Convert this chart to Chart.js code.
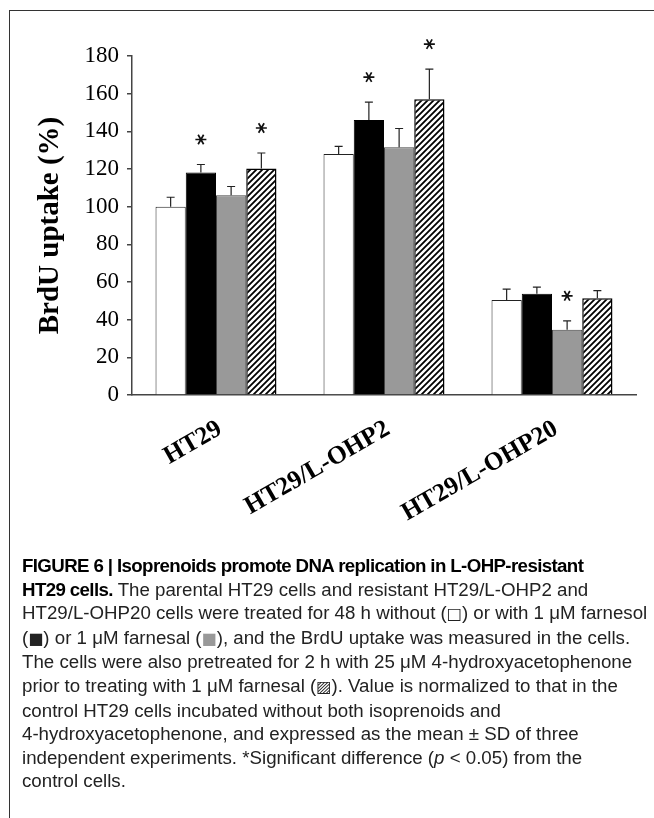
<!DOCTYPE html>
<html>
<head>
<meta charset="utf-8">
<script src="https://cdn.jsdelivr.net/npm/chart.js@4.4.1/dist/chart.umd.min.js"></script>
<style>
  body { margin: 0; background: #fff; width: 654px; height: 818px; overflow: hidden; position: relative; }
  #chart { position: absolute; left: 0; top: 0; }
  .frame { position: absolute; left: 9px; top: 10px; width: 660px; height: 820px;
           border-top: 1.5px solid #333; border-left: 1.5px solid #333; }
  .caption { position: absolute; left: 22px; top: 554px; font-family: "Liberation Sans", Arial, sans-serif;
             font-size: 18.7px; line-height: 23.6px; color: #222; white-space: nowrap; }
  .caption b { color: #000; letter-spacing: -0.62px; }
  .sym { font-family: "DejaVu Sans", sans-serif; font-size: 16px; }
</style>
</head>
<body>
<canvas id="chart" width="654" height="545"></canvas>
<div class="frame"></div>
<div class="caption">
<b>FIGURE 6 | Isoprenoids promote DNA replication in L-OHP-resistant</b><br>
<b>HT29 cells.</b> The parental HT29 cells and resistant HT29/L-OHP2 and<br>
HT29/L-OHP20 cells were treated for 48 h without (<span class="sym">□</span>) or with 1 μM farnesol<br>
(<span class="sym">■</span>) or 1 μM farnesal (<span class="sym" style="color:#999">■</span>), and the BrdU uptake was measured in the cells.<br>
The cells were also pretreated for 2 h with 25 μM 4-hydroxyacetophenone<br>
prior to treating with 1 μM farnesal (<span class="sym">▨</span>). Value is normalized to that in the<br>
control HT29 cells incubated without both isoprenoids and<br>
4-hydroxyacetophenone, and expressed as the mean ± SD of three<br>
independent experiments. *Significant difference (<i>p</i> &lt; 0.05) from the<br>
control cells.
</div>
<script>
// cell lines on the x axis
const cellLines = ['HT29', 'HT29/L-OHP2', 'HT29/L-OHP20'];

// BrdU uptake (%), with SD (upper error bar only)
const controlVals = [100, 128, 50.5];
const controlSd = [5, 4, 5.7];
const farnesolVals = [118.2, 146, 53.7];
const farnesolSd = [4.2, 9.5, 3.6];
const farnesalVals = [106, 131.5, 34.6];
const farnesalSd = [4.7, 10, 4.8];
const pretreatVals = [120.3, 157, 51.4];
const pretreatSd = [8.2, 16, 4];

// significance markers (*)
const controlSig = [false, false, false];
const farnesolSig = [true, true, false];
const farnesalSig = [false, false, true];
const pretreatSig = [true, true, false];

const yTicks = [0, 20, 40, 60, 80, 100, 120, 140, 160, 180];

// diagonal hatch for the 4-hydroxyacetophenone bars
function makeHatch() {
    const s = 6;
    const c = document.createElement('canvas');
    c.width = s; c.height = s;
    const g = c.getContext('2d');
    g.fillStyle = '#fff';
    g.fillRect(0, 0, s, s);
    g.strokeStyle = '#000';
    g.lineWidth = 1.8;
    g.beginPath();
    g.moveTo(0, s); g.lineTo(s, 0);
    g.moveTo(-1, 1); g.lineTo(1, -1);
    g.moveTo(s - 1, s + 1); g.lineTo(s + 1, s - 1);
    g.stroke();
    return document.getElementById('chart').getContext('2d').createPattern(c, 'repeat');
}

// upward error bars and asterisks
const errorBars = {
    id: 'errorBars',
    afterDatasetsDraw(chart) {
        const ctx = chart.ctx;
        const y = chart.scales.y;
        ctx.save();
        chart.data.datasets.forEach((ds, i) => {
            const meta = chart.getDatasetMeta(i);
            meta.data.forEach((bar, j) => {
                const top = y.getPixelForValue(ds.data[j] + ds.sd[j]);
                ctx.strokeStyle = '#222';
                ctx.lineWidth = 1.2;
                ctx.beginPath();
                ctx.moveTo(bar.x, bar.y);
                ctx.lineTo(bar.x, top);
                ctx.moveTo(bar.x - 4, top);
                ctx.lineTo(bar.x + 4, top);
                ctx.stroke();
                if (ds.sig[j]) {
                    const cy = top - 25;
                    const r = 5.5;
                    ctx.strokeStyle = '#111';
                    ctx.lineWidth = 1.7;
                    ctx.beginPath();
                    for (let k = 0; k < 3; k++) {
                        const a = k * Math.PI / 3;
                        ctx.moveTo(bar.x - r * Math.cos(a), cy - r * Math.sin(a));
                        ctx.lineTo(bar.x + r * Math.cos(a), cy + r * Math.sin(a));
                    }
                    ctx.stroke();
                }
            });
        });
        ctx.restore();
    }
};

const hatch = makeHatch();

new Chart(document.getElementById('chart'), {
    type: 'bar',
    data: {
        labels: cellLines,
        datasets: [
            { label: 'control', data: controlVals, sd: controlSd, sig: controlSig,
              backgroundColor: '#fff', borderColor: '#222', borderWidth: 1 },
            { label: 'farnesol', data: farnesolVals, sd: farnesolSd, sig: farnesolSig,
              backgroundColor: '#000', borderColor: '#000', borderWidth: 1 },
            { label: 'farnesal', data: farnesalVals, sd: farnesalSd, sig: farnesalSig,
              backgroundColor: '#999', borderColor: '#444', borderWidth: 1 },
            { label: '4-HAP + farnesal', data: pretreatVals, sd: pretreatSd, sig: pretreatSig,
              backgroundColor: hatch, borderColor: '#000', borderWidth: 1.5 }
        ]
    },
    options: {
        responsive: false,
        animation: false,
        devicePixelRatio: 1,
        layout: { padding: { top: 56, right: 18, left: 0, bottom: 0 } },
        categoryPercentage: 0.72,
        barPercentage: 1,
        plugins: { legend: { display: false }, tooltip: { enabled: false } },
        scales: {
            x: {
                grid: { drawOnChartArea: false, drawTicks: false },
                border: { color: '#444', width: 1.5 },
                ticks: {
                    color: '#000',
                    maxRotation: 30, minRotation: 30,
                    labelOffset: 4,
                    padding: 19,
                    font: { family: 'Liberation Serif', size: 25.5, weight: 'bold' }
                },
                afterFit(scale) { scale.height = 150; }
            },
            y: {
                min: 0, max: 180,
                afterBuildTicks(scale) { scale.ticks = yTicks.map(v => ({ value: v })); },
                grid: { drawOnChartArea: false, drawTicks: true, tickLength: 5, color: '#444', lineWidth: 1.5 },
                border: { color: '#444', width: 1.5 },
                ticks: {
                    color: '#000', padding: 8,
                    font: { family: 'Liberation Serif', size: 23 }
                },
                title: {
                    display: true,
                    text: 'BrdU uptake (%)',
                    color: '#000',
                    padding: { top: 33, bottom: 0 },
                    font: { family: 'Liberation Serif', size: 29, weight: 'bold' }
                },
                afterFit(scale) { scale.width = 132; }
            }
        }
    },
    plugins: [errorBars]
});
</script>
</body>
</html>
